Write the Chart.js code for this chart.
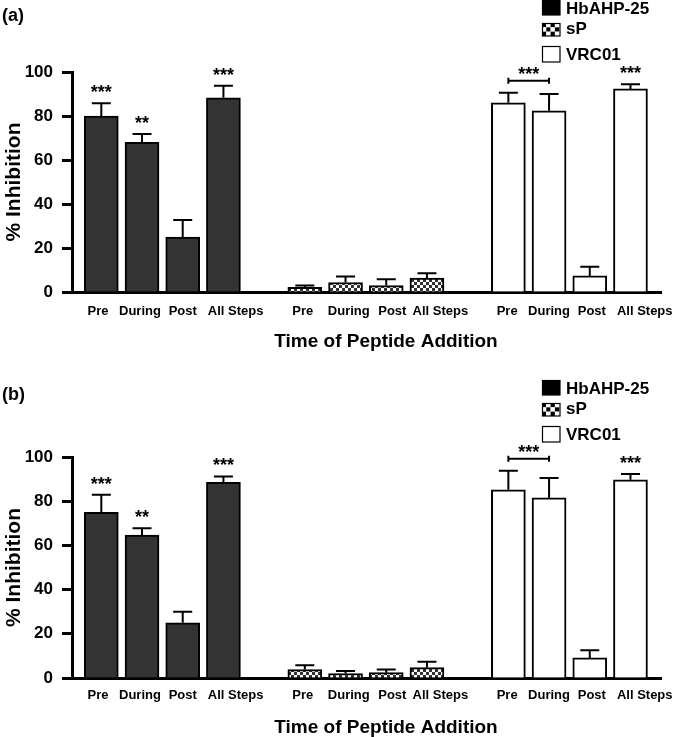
<!DOCTYPE html>
<html lang="en">
<head>
  <meta charset="UTF-8">
  <title>Time of Peptide Addition</title>
  <script src="https://cdn.jsdelivr.net/npm/chart.js"></script>
  <style>
    body { margin: 0; background: #fff; }
    canvas { position: absolute; left: 0; }
  </style>
</head>
<body>
  <canvas id="chartA" width="675" height="360" style="top:0"></canvas>
  <canvas id="chartB" width="675" height="377" style="top:360px"></canvas>

  <script>
    // data
    const tickLabels = ['Pre', 'During', 'Post', 'All Steps', 'Pre', 'During', 'Post', 'All Steps', 'Pre', 'During', 'Post', 'All Steps'];
    // where the labels sit on the x axis (the figure sets them a little off the bar centres)
    const tickValues = [-0.08, 0.95, 2.0, 3.3, 4.95, 6.08, 7.15, 8.33, 9.97, 11.0, 12.05, 13.35];
    const hbPos = [0, 1, 2, 3];
    const spPos = [5, 6, 7, 8];
    const vrcPos = [10, 11, 12, 13];
    const seriesNames = ['HbAHP-25', 'sP', 'VRC01'];

    // panel (a)
    const hbA = [80, 68, 25, 88.3];
    const hbAErr = [5.8, 3.8, 7.7, 5.5];
    const spA = [2.1, 4.3, 2.9, 6.3];
    const spAErr = [0.8, 2.7, 2.9, 2.2];
    const vrcA = [86.0, 82.4, 7.3, 92.3];
    const vrcAErr = [4.6, 7.6, 4.2, 2.1];

    // panel (b)
    const hbB = [75.0, 64.7, 25.0, 88.5];
    const hbBErr = [7.9, 3.1, 5.0, 2.7];
    const spB = [3.8, 2.0, 2.4, 4.7];
    const spBErr = [2.0, 1.2, 1.4, 2.6];
    const vrcB = [85.2, 81.5, 9.1, 89.7];
    const vrcBErr = [8.6, 9.0, 3.5, 2.6];

    const hbStars = ['***', '**', '', '***'];
    const spStars = ['', '', '', ''];
    const vrcStars = ['', '', '', '***'];
    const bracketStars = '***'; // VRC01 Pre vs During

    const FONT = "'Liberation Sans', Arial, sans-serif";

    // checkered fill for sP bars
    function checker(size, dark) {
      const c = document.createElement('canvas');
      c.width = c.height = size * 2;
      const g = c.getContext('2d');
      g.fillStyle = '#fff';
      g.fillRect(0, 0, size * 2, size * 2);
      g.fillStyle = dark;
      g.fillRect(0, 0, size, size);
      g.fillRect(size, size, size, size);
      return g.createPattern(c, 'repeat');
    }

    const annotations = {
      id: 'annotations',
      afterDatasetsDraw(chart, args, opts) {
        const ctx = chart.ctx;
        const y = chart.scales.y;
        ctx.save();
        ctx.strokeStyle = '#000';
        ctx.lineWidth = 2;
        ctx.fillStyle = '#000';
        ctx.textAlign = 'center';
        ctx.font = 'bold 18px ' + FONT;
        const tops = [];
        chart.data.datasets.forEach((ds, i) => {
          const meta = chart.getDatasetMeta(i);
          tops[i] = [];
          meta.data.forEach((bar, j) => {
            const top = y.getPixelForValue(ds.data[j].y + opts.errors[i][j]);
            tops[i][j] = top;
            ctx.beginPath();
            ctx.moveTo(bar.x, bar.y);
            ctx.lineTo(bar.x, top);
            ctx.moveTo(bar.x - 9.5, top);
            ctx.lineTo(bar.x + 9.5, top);
            ctx.stroke();
            if (opts.stars[i][j]) {
              ctx.fillText(opts.stars[i][j], bar.x, top - 5);
            }
          });
        });
        // bracket between VRC01 Pre and During
        const vm = chart.getDatasetMeta(2).data;
        const by = Math.min(tops[2][0], tops[2][1]) - 12;
        ctx.beginPath();
        ctx.moveTo(vm[0].x, by - 3); ctx.lineTo(vm[0].x, by + 3);
        ctx.moveTo(vm[0].x, by); ctx.lineTo(vm[1].x, by);
        ctx.moveTo(vm[1].x, by - 3); ctx.lineTo(vm[1].x, by + 3);
        ctx.stroke();
        ctx.fillText(bracketStars, (vm[0].x + vm[1].x) / 2, by - 1);
        ctx.restore();
      },
      afterDraw(chart, args, opts) {
        const ctx = chart.ctx;
        const area = chart.chartArea;
        ctx.save();
        ctx.fillStyle = '#000';
        // panel label
        ctx.font = 'bold 18px ' + FONT;
        ctx.textAlign = 'left';
        ctx.fillText(opts.panel, 2, opts.panelY);
        // x axis title
        ctx.font = 'bold 19px ' + FONT;
        ctx.textAlign = 'center';
        ctx.fillText('Time of Peptide Addition', 386, area.bottom + 55);
        // legend
        const lt = opts.legendTop;
        const lx = 542;
        const items = [
          { box: [0, 15], base: 14, fill: '#000' },
          { box: [23, 13], base: 34, fill: 'check' },
          { box: [46, 16], base: 60, fill: '#fff' }
        ];
        ctx.font = 'bold 17px ' + FONT;
        ctx.textAlign = 'left';
        items.forEach((it, k) => {
          const by = lt + it.box[0], bh = it.box[1];
          if (it.fill === 'check') {
            const s = 4.3;
            for (let r = 0; r < 3; r++) {
              for (let c = 0; c < 4; c++) {
                ctx.fillStyle = (r + c) % 2 === 0 ? '#000' : '#fff';
                ctx.fillRect(lx + c * s, by + r * bh / 3, s, bh / 3);
              }
            }
          } else {
            ctx.fillStyle = it.fill;
            ctx.fillRect(lx, by, 18, bh);
          }
          ctx.strokeStyle = '#000';
          ctx.lineWidth = 1.2;
          ctx.strokeRect(lx + 0.5, by + 0.5, 17.5, bh - 0.5);
          ctx.fillStyle = '#000';
          ctx.fillText(seriesNames[k], 566, lt + it.base);
        });
        ctx.restore();
      }
    };

    function points(pos, vals) {
      return pos.map((p, i) => ({ x: p, y: vals[i] }));
    }

    function drawPanel(id, cfg) {
      const ctx = document.getElementById(id).getContext('2d');
      return new Chart(ctx, {
        type: 'bar',
        data: {
          datasets: [
            { label: seriesNames[0], data: points(hbPos, cfg.hb), backgroundColor: '#333333' },
            { label: seriesNames[1], data: points(spPos, cfg.sp), backgroundColor: checker(3, '#333') },
            { label: seriesNames[2], data: points(vrcPos, cfg.vrc), backgroundColor: '#ffffff' }
          ]
        },
        options: {
          responsive: false,
          animation: false,
          events: [],
          grouped: false,
          barThickness: 34,
          borderColor: '#000',
          borderWidth: 2,
          layout: { padding: { left: 0, right: 14, top: cfg.top, bottom: 0 } },
          scales: {
            x: {
              type: 'linear',
              offset: false,
              min: -0.72,
              max: 13.75,
              afterBuildTicks: (scale) => {
                scale.ticks = tickValues.map(v => ({ value: v }));
              },
              afterFit: (scale) => {
                scale.height = cfg.bottom;
                scale.paddingLeft = 0;
                scale.paddingRight = 0;
              },
              grid: { display: true, offset: false, drawOnChartArea: false, drawTicks: false },
              border: { display: true, width: 3, color: '#000' },
              ticks: {
                autoSkip: false,
                maxRotation: 0,
                padding: cfg.labelPad,
                color: '#000',
                font: { family: FONT, size: 13, weight: 'bold' },
                callback: (v, i) => tickLabels[i]
              }
            },
            y: {
              min: 0,
              max: 100,
              afterFit: (scale) => { scale.width = 72; },
              grid: { display: true, drawOnChartArea: false, drawTicks: true, tickLength: 10, tickWidth: 3, tickColor: '#000' },
              border: { display: true, width: 3, color: '#000' },
              ticks: {
                stepSize: 20,
                padding: 9,
                color: '#000',
                font: { family: FONT, size: 17, weight: 'bold' }
              },
              title: {
                display: true,
                text: '% Inhibition',
                color: '#000',
                padding: { top: 2, bottom: 0 },
                font: { family: FONT, size: 21, weight: 'bold' }
              }
            }
          },
          plugins: {
            legend: { display: false },
            tooltip: { enabled: false },
            annotations: {
              errors: [cfg.hbErr, cfg.spErr, cfg.vrcErr],
              stars: [hbStars, spStars, vrcStars],
              panel: cfg.panel,
              panelY: cfg.panelY,
              legendTop: cfg.legendTop
            }
          }
        },
        plugins: [annotations]
      });
    }

    drawPanel('chartA', {
      hb: hbA, hbErr: hbAErr, sp: spA, spErr: spAErr, vrc: vrcA, vrcErr: vrcAErr,
      panel: '(a)', panelY: 21, legendTop: 0, top: 72, bottom: 68, labelPad: 12
    });
    drawPanel('chartB', {
      hb: hbB, hbErr: hbBErr, sp: spB, spErr: spBErr, vrc: vrcB, vrcErr: vrcBErr,
      panel: '(b)', panelY: 40, legendTop: 20, top: 97, bottom: 59, labelPad: 10
    });
  </script>
</body>
</html>
